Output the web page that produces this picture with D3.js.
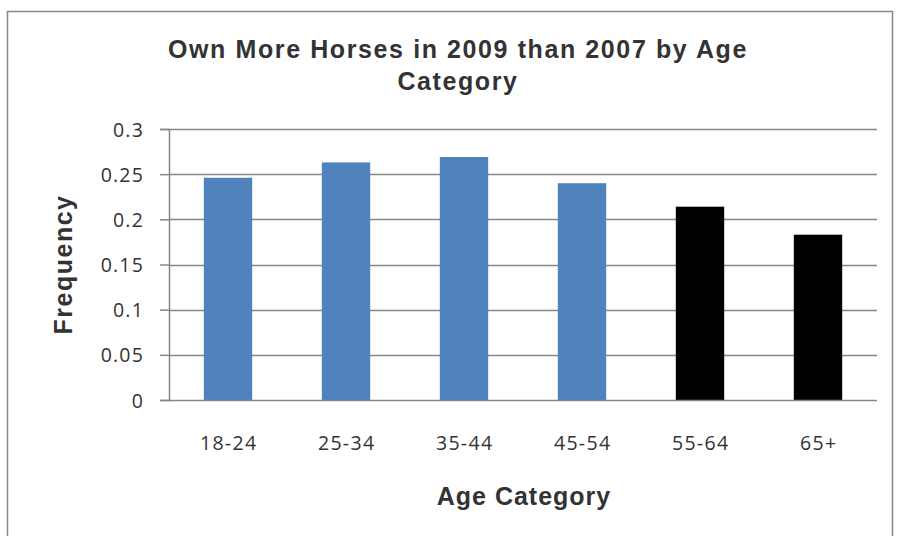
<!DOCTYPE html>
<html><head><meta charset="utf-8">
<script src="https://cdn.jsdelivr.net/npm/d3@7"></script>
<style>body{margin:0;background:#fff}svg{display:block}</style>
</head><body>
<svg id="c" width="898" height="536"></svg>
<script>
const categories = ["18-24","25-34","35-44","45-54","55-64","65+"];
const values = [0.246, 0.263, 0.269, 0.240, 0.214, 0.183];
const barColors = ["#4F81BD","#4F81BD","#4F81BD","#4F81BD","#000000","#000000"];
const yTicks = [0, 0.05, 0.1, 0.15, 0.2, 0.25, 0.3];
const titleLines = ["Own More Horses in 2009 than 2007 by Age", "Category"];

const svg = d3.select("#c");
const tickFont = "'Open Sans', 'Noto Sans', sans-serif";
const titleFont = "'Liberation Sans', Arial, sans-serif";
const textColor = "#333333";
svg.append("rect").attr("x",7.5).attr("y",11.5).attr("width",885).attr("height",540)
  .attr("fill","#fff").attr("stroke","#878787").attr("stroke-width",1.5);

const L=169, R=877, T=129, B=400;
const x = d3.scaleBand().domain(categories).range([L,R]).paddingInner(0.59).paddingOuter(0.295);
const y = d3.scaleLinear().domain([0,0.3]).range([B,T]);

// gridlines
svg.append("g").selectAll("line").data(yTicks.filter(d=>d>0)).join("line")
  .attr("x1",L).attr("x2",R).attr("y1",d=>Math.round(y(d))+0.5).attr("y2",d=>Math.round(y(d))+0.5)
  .attr("stroke","#868686").attr("stroke-width",1.5);

// bars
svg.append("g").selectAll("rect").data(values).join("rect")
  .attr("x",(d,i)=>x(categories[i])).attr("width",x.bandwidth())
  .attr("y",d=>y(d)).attr("height",d=>B-y(d))
  .attr("fill",(d,i)=>barColors[i]);

// y axis
const ya = svg.append("g").attr("transform",`translate(${L},0)`)
  .call(d3.axisLeft(y).tickValues(yTicks).tickSize(9).tickPadding(16).tickFormat(d=>String(+d.toFixed(2))));
ya.select(".domain").attr("stroke","#868686").attr("stroke-width",1.5);
ya.selectAll(".tick line").attr("stroke","#868686").attr("stroke-width",1.5);
ya.selectAll("text").attr("font-family",tickFont).attr("font-size",19.5).attr("fill",textColor)
  .attr("letter-spacing",1.2).attr("dy","0.36em");

// x axis
const xa = svg.append("g").attr("transform",`translate(0,${B})`)
  .call(d3.axisBottom(x).tickSize(0).tickPadding(0));
xa.select(".domain").attr("d",`M${L},0.5H${R}`).attr("stroke","#868686").attr("stroke-width",1.5);
xa.selectAll("text").attr("font-family",tickFont).attr("font-size",19.5).attr("fill",textColor)
  .attr("letter-spacing",1.3).attr("dy",null).attr("y",50).attr("dx",0.65);

// title
svg.append("text").attr("text-anchor","middle")
  .attr("font-family",titleFont).attr("font-weight","bold").attr("font-size",25).attr("fill",textColor)
  .attr("letter-spacing",1.6)
  .selectAll("tspan").data(titleLines).join("tspan")
  .attr("x",458).attr("y",(d,i)=>58+i*32).text(d=>d);

// axis titles
svg.append("text").attr("x",(L+R)/2+1).attr("y",505).attr("text-anchor","middle")
  .attr("font-family",titleFont).attr("font-weight","bold").attr("font-size",25).attr("fill",textColor)
  .attr("letter-spacing",1.0).text("Age Category");
svg.append("text").attr("transform",`translate(72,${(T+B)/2}) rotate(-90)`).attr("text-anchor","middle")
  .attr("font-family",titleFont).attr("font-weight","bold").attr("font-size",25).attr("fill",textColor)
  .attr("letter-spacing",1.5).text("Frequency");
</script>
</body></html>
